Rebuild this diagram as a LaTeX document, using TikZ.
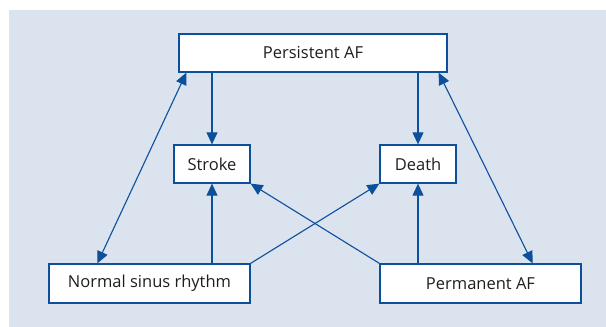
\documentclass[tikz,border=0pt]{standalone}
\usepackage{fontspec}
\setmainfont{Open Sans}
\usetikzlibrary{arrows.meta}
\definecolor{afblue}{RGB}{12,80,156}
\definecolor{afback}{RGB}{218,227,238}
\definecolor{aftext}{RGB}{30,30,30}
\begin{document}
\begin{tikzpicture}[x=1pt,y=-1pt,>={Triangle[length=12pt,width=11pt]},line width=1.1pt,
  font=\fontsize{16.5}{19}\selectfont,
  state/.style={draw=afblue,fill=white,text=aftext,line width=1.3pt,inner sep=0pt},
  wide/.style={state,minimum width=201pt,minimum height=39pt},
  small/.style={state,minimum width=76pt,minimum height=38pt},
  link/.style={draw=afblue,->}]
  \useasboundingbox (0,0) rectangle (606,327);
  \fill[afback] (9,10) rectangle (606,327);
  \node[state,minimum width=268pt,minimum height=38pt] (pers) at (313,53) {Persistent AF};
  \node[small] (stroke) at (212,164) {Stroke};
  \node[small] (death) at (418,164) {Death};
  \node[wide] (nsr) at (149.5,283.5) {Normal sinus rhythm};
  \node[wide] (perm) at (480.5,283.5) {Permanent AF};
  \draw[link] (stroke.north |- pers.south) -- (stroke.north);
  \draw[link] (death.north |- pers.south) -- (death.north);
  \draw[link] (stroke.south |- nsr.north) -- (stroke.south);
  \draw[link] (death.south |- perm.north) -- (death.south);
  \draw[link] (nsr.north east) -- (death.south west);
  \draw[link] (perm.north west) -- (stroke.south east);
  \draw[link,<->] ([xshift=49pt]nsr.north west) -- ([xshift=8pt]pers.south west);
  \draw[link,<->] ([xshift=-49pt]perm.north east) -- ([xshift=-9pt]pers.south east);
\end{tikzpicture}
\end{document}
